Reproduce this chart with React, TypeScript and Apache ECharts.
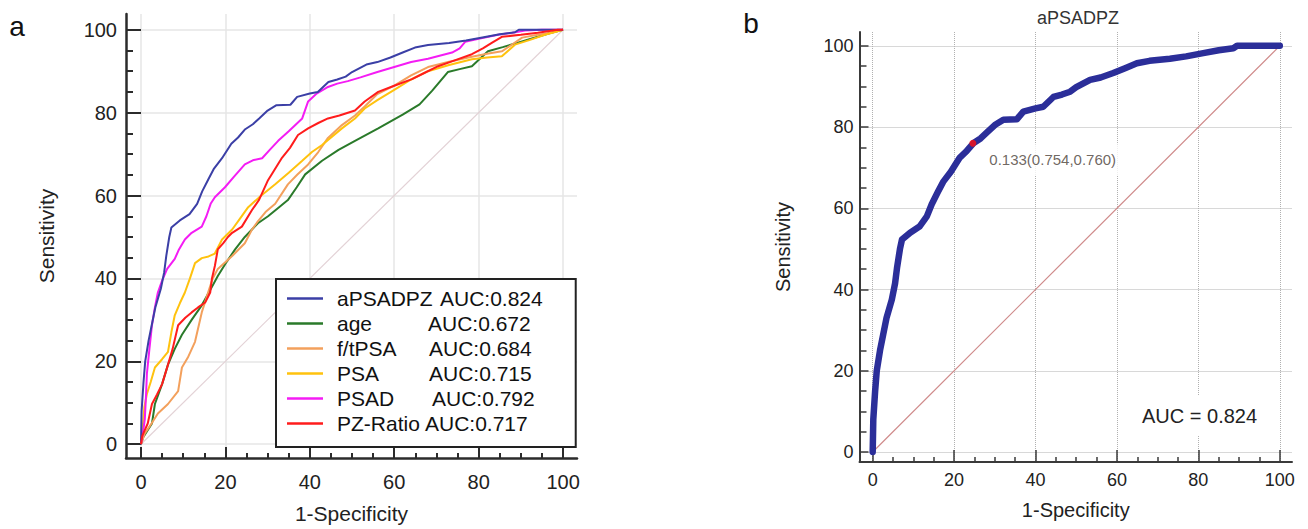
import React, { useEffect, useRef } from 'react';
import * as echarts from 'echarts';

type P = [number, number];

const MAJOR_TICKS = [0, 20, 40, 60, 80, 100];
const MINOR_TICKS = [5, 10, 15, 25, 30, 35, 45, 50, 55, 65, 70, 75, 85, 90, 95];

const NAMES = ['aPSADPZ', 'age', 'f/tPSA', 'PSA', 'PSAD', 'PZ-Ratio'];
const AUCS = ['0.824', '0.672', '0.684', '0.715', '0.792', '0.717'];

const APSADPZ: P[] = [
  [0, 0], [0.15, 8], [0.6, 15], [1, 20], [1.8, 25], [2.6, 29], [3.4, 33], [4.7, 37.5], [5.5, 41.5], [6, 45.5],
  [6.7, 50], [7.2, 52.3], [9.2, 54], [11.5, 55.5], [13.3, 58], [14.5, 61], [16, 64], [17.3, 66.5], [19.2, 69],
  [21.4, 72.5], [23, 74], [24.7, 76], [26.5, 77.2], [28, 78.6], [30, 80.5], [32.1, 81.8], [35.4, 81.9], [37, 83.8],
  [40, 84.6], [41.9, 85], [44.4, 87.4], [46.5, 88], [48.5, 88.7], [50, 89.8], [53.4, 91.6], [56, 92.2], [59.1, 93.3],
  [62, 94.5], [64.9, 95.7], [68, 96.3], [73, 96.8], [77, 97.4], [81.2, 98.2], [85, 98.9], [88.6, 99.4], [89.5, 100],
  [100, 100],
];

const AGE: P[] = [
  [0, 0], [0.5, 1.6], [2.6, 5], [3.3, 9.7], [5, 14.5], [6.4, 19.2], [8, 23], [9.7, 26.4], [12, 30], [14.4, 33.5],
  [16.3, 37], [18.2, 40.6], [20.3, 44], [22.3, 47], [24.6, 50], [27.7, 53.3], [30.1, 55], [32.5, 57], [34.8, 58.9],
  [36.9, 62], [38.9, 65.1], [42.9, 68.4], [46.8, 71], [50.7, 73.2], [56.2, 76.2], [62, 79.5], [66, 82], [69, 85.3],
  [70.8, 87.5], [72.7, 89.8], [75.5, 90.5], [78.4, 91.2], [80.3, 93], [82.2, 94.8], [85.7, 95.8], [89.3, 96.9],
  [94, 98.3], [97, 99.2], [100, 100],
];

const FTPSA: P[] = [
  [0, 0], [0.9, 2.6], [2.5, 5], [4, 7.4], [6.4, 9.7], [8.8, 12.8], [9.7, 18.5], [11.1, 20.9], [12.8, 24.7],
  [14.4, 31.8], [15.9, 36.6], [17, 40], [18.2, 42.3], [21.6, 45.4], [24.6, 48.5], [26.3, 51.8], [27.5, 53.5],
  [29.5, 56], [31.8, 58], [34.8, 62.7], [37, 65], [39.6, 67.5], [42, 70.5], [44.3, 73.9], [47.6, 77], [50.7, 79.3],
  [53, 81.5], [56, 84.5], [60, 86.5], [64, 89], [68, 91], [73, 92.3], [78.4, 93.5], [82, 94.2], [85.5, 94.8],
  [88, 96.5], [90.3, 98.1], [94, 98.8], [97.4, 99.3], [100, 100],
];

const PSA: P[] = [
  [0, 0], [0.5, 5], [0.8, 9], [1.4, 12.1], [2.3, 15], [3.3, 18.5], [5, 20.5], [6.4, 22.3], [7.2, 27], [8, 31.1],
  [9.2, 34], [10.4, 36.6], [11.6, 40], [12.8, 43.7], [14.4, 44.9], [16, 45.3], [17.5, 46], [19.2, 49.4],
  [21.6, 51.8], [23.5, 54.5], [25.4, 57.2], [28.5, 60], [31.8, 62.7], [35, 65.5], [38.2, 68.4], [40.5, 70.5],
  [42.9, 72.2], [47.6, 76.2], [50.7, 78.6], [53, 81], [56, 83], [60, 85.5], [64, 88], [68, 90], [73, 91.5],
  [78.4, 92.9], [82, 93.3], [85.5, 93.6], [88.6, 96.4], [92, 97.5], [95.7, 98.8], [100, 100],
];

const PSAD: P[] = [
  [0, 0], [0.5, 3], [0.9, 6], [1.2, 12], [1.4, 17], [2, 23], [2.6, 28.7], [3.3, 33], [4, 36.6], [5, 39.5],
  [6.2, 42.3], [8, 44.7], [9, 47], [10.4, 49.4], [12, 51], [14.4, 52.5], [15.5, 55], [16.5, 58], [17.5, 59.6],
  [19.9, 62], [22, 64.5], [24.6, 67.5], [26.5, 68.5], [28.7, 69], [30.5, 71], [32.5, 73.2], [35, 75.5],
  [38.2, 78.6], [39.6, 82.7], [41.5, 84.5], [44.3, 86.2], [46.5, 87], [49, 87.6], [52, 88.5], [56, 89.8],
  [60, 91], [64, 92.2], [68, 93], [73.7, 94.5], [75.5, 95.5], [76.8, 97.1], [80, 97.8], [84.6, 98.8],
  [88, 99.3], [91, 99.8], [95, 100], [100, 100],
];

const PZRATIO: P[] = [
  [0, 0], [0.3, 2], [1.6, 5], [2.6, 9.7], [3.8, 12], [5, 14.5], [6.4, 19.2], [7.5, 23], [8.8, 28.7], [10.5, 30.5],
  [12, 31.8], [13.5, 33], [15.2, 34.2], [16.4, 36.6], [16.8, 39.9], [17.5, 43], [18.2, 47], [19.5, 48.5],
  [20.6, 50], [21.6, 51], [23.9, 52.5], [26.3, 56.5], [28, 59], [30.1, 63.7], [31.5, 66], [33.4, 69.1],
  [35.3, 71.5], [37.2, 74.6], [39.6, 76.2], [42, 77.5], [44.3, 78.6], [47, 79.3], [50.7, 80.5], [53, 82.7],
  [56.2, 85], [60, 86.5], [64.2, 88.1], [67, 89.5], [70.4, 91.2], [74, 92.5], [78.4, 94.1], [81, 95.5],
  [83.2, 96.9], [85.5, 98.3], [90, 98.8], [94, 99.3], [98.8, 100], [100, 100],
];

const DIAGONAL: P[] = [[0, 0], [100, 100]];
const CUTOFF_POINT: P[] = [[24.6, 76.0]];
const CUTOFF_LABEL = '0.133(0.754,0.760)';
const PANEL_B_TITLE = 'aPSADPZ';
const PANEL_B_AUC = 'AUC = 0.824';
const X_NAME = '1-Specificity';
const Y_NAME = 'Sensitivity';

const FONT = '"Liberation Sans", Arial, sans-serif';
const COLORS = ['#3b3fa6', '#2a7a2a', '#f3a05c', '#ffc20e', '#f41cf4', '#ff1c1c'];
const NAME_W = [103, 91, 92, 92, 95, 88];

export default function App() {
  const ref = useRef<HTMLDivElement>(null);

  useEffect(() => {
    if (!ref.current) return;
    const chart = echarts.init(ref.current, null, { renderer: 'svg' });

    const axisA = '#2b2b2b';
    const axisB = '#3a3a3a';

    const makeX = (grid: number, min: number, max: number, major: boolean, b: boolean) => ({
      type: 'value',
      gridIndex: grid,
      min,
      max,
      position: 'bottom',
      axisLine: major
        ? { show: true, onZero: false, lineStyle: { color: b ? axisB : axisA, width: b ? 2 : 2.5 } }
        : { show: false, onZero: false },
      axisTick: {
        show: true,
        inside: true,
        length: major ? (b ? 12 : 11) : 5,
        customValues: major ? MAJOR_TICKS : MINOR_TICKS,
        lineStyle: { color: b ? axisB : axisA, width: b ? 1.5 : 2 },
      },
      axisLabel: major
        ? {
            show: true,
            customValues: MAJOR_TICKS,
            fontSize: b ? 18 : 20,
            color: '#222',
            fontFamily: FONT,
            margin: b ? 9 : 14,
          }
        : { show: false },
      splitLine: major
        ? {
            show: true,
            lineStyle: b
              ? { color: '#b0b0b0', width: 1, type: 'dotted' }
              : { color: '#e6e6e6', width: 1.5 },
          }
        : { show: false },
      name: major ? X_NAME : '',
      nameLocation: 'middle',
      nameGap: b ? 38 : 45,
      nameTextStyle: { fontSize: b ? 20 : 21, color: '#222', fontFamily: FONT },
    });

    const makeY = (grid: number, min: number, max: number, major: boolean, b: boolean) => ({
      type: 'value',
      gridIndex: grid,
      min,
      max,
      position: 'left',
      axisLine: major
        ? { show: true, onZero: false, lineStyle: { color: b ? axisB : axisA, width: b ? 2 : 2.5 } }
        : { show: false, onZero: false },
      axisTick: {
        show: true,
        inside: true,
        length: major ? (b ? 9 : 15) : 7,
        customValues: major ? MAJOR_TICKS : MINOR_TICKS,
        lineStyle: { color: b ? axisB : axisA, width: b ? 1.5 : 2 },
      },
      axisLabel: major
        ? {
            show: true,
            customValues: MAJOR_TICKS,
            fontSize: b ? 18 : 20,
            color: '#222',
            fontFamily: FONT,
            margin: b ? 6 : 9,
          }
        : { show: false },
      splitLine: major
        ? {
            show: true,
            lineStyle: b
              ? { color: '#b0b0b0', width: 1, type: 'dotted' }
              : { color: '#e6e6e6', width: 1.5 },
          }
        : { show: false },
      name: major ? Y_NAME : '',
      nameLocation: 'middle',
      nameGap: b ? 67 : 69,
      nameTextStyle: { fontSize: b ? 20 : 21, color: '#222', fontFamily: FONT },
    });

    const seriesA = [
      { data: AGE, idx: 1, z: 3 },
      { data: FTPSA, idx: 2, z: 4 },
      { data: PSA, idx: 3, z: 5 },
      { data: PSAD, idx: 4, z: 6 },
      { data: APSADPZ, idx: 0, z: 7 },
      { data: PZRATIO, idx: 5, z: 8 },
    ].map((s) => ({
      type: 'line',
      name: NAMES[s.idx],
      xAxisIndex: 0,
      yAxisIndex: 0,
      data: s.data,
      symbol: 'none',
      showSymbol: false,
      z: s.z,
      silent: true,
      lineStyle: { color: COLORS[s.idx], width: 2 },
      itemStyle: { color: COLORS[s.idx] },
    }));

    const rich: Record<string, any> = {
      v: { fontSize: 21, fontFamily: FONT, color: '#111', lineHeight: 21 },
    };
    NAMES.forEach((_, i) => {
      rich['n' + i] = {
        fontSize: 21,
        fontFamily: FONT,
        color: '#111',
        lineHeight: 21,
        width: NAME_W[i],
        padding: [0, 0, 0, 9],
      };
    });

    chart.setOption({
      animation: false,
      grid: [
        { left: 126, top: 14, width: 451, height: 451, containLabel: false },
        { left: 859.5, top: 32, width: 432.5, height: 430, containLabel: false },
      ],
      xAxis: [
        makeX(0, -3.55, 103.3, true, false),
        makeX(0, -3.55, 103.3, false, false),
        makeX(1, -3.24, 103.0, true, true),
        makeX(1, -3.24, 103.0, false, true),
      ],
      yAxis: [
        makeY(0, -3.33, 103.8, true, false),
        makeY(0, -3.33, 103.8, false, false),
        makeY(1, -2.46, 103.4, true, true),
        makeY(1, -2.46, 103.4, false, true),
      ],
      legend: {
        data: NAMES,
        orient: 'vertical',
        left: 276,
        top: 279,
        icon: 'rect',
        itemWidth: 36,
        itemHeight: 2.5,
        itemGap: 4,
        padding: [9, 33, 13, 11],
        backgroundColor: '#fff',
        borderColor: '#222',
        borderWidth: 2,
        borderRadius: 0,
        selectedMode: false,
        z: 20,
        textStyle: { fontSize: 21, fontFamily: FONT, color: '#111', lineHeight: 21, rich },
        formatter: (name: string) => {
          const i = NAMES.indexOf(name);
          return `{n${i}|${name}}{v|AUC:${AUCS[i]}}`;
        },
      },
      series: [
        {
          type: 'line',
          name: 'diag-a',
          xAxisIndex: 0,
          yAxisIndex: 0,
          data: DIAGONAL,
          symbol: 'none',
          silent: true,
          z: 2,
          lineStyle: { color: '#e3d2d6', width: 1.2 },
        },
        ...seriesA,
        {
          type: 'line',
          name: 'diag-b',
          xAxisIndex: 2,
          yAxisIndex: 2,
          data: DIAGONAL,
          symbol: 'none',
          silent: true,
          z: 2,
          lineStyle: { color: '#cf8a8a', width: 1.2 },
        },
        {
          type: 'line',
          name: 'aPSADPZ-b',
          xAxisIndex: 2,
          yAxisIndex: 2,
          data: APSADPZ,
          symbol: 'none',
          silent: true,
          z: 4,
          lineStyle: { color: '#2b2e99', width: 6.5, cap: 'round', join: 'round' },
        },
        {
          type: 'scatter',
          name: 'cutoff',
          xAxisIndex: 2,
          yAxisIndex: 2,
          data: CUTOFF_POINT,
          symbol: 'circle',
          symbolSize: 7,
          silent: true,
          z: 6,
          itemStyle: { color: '#ff1010' },
          label: {
            show: true,
            formatter: CUTOFF_LABEL,
            position: [16, 20],
            align: 'left',
            verticalAlign: 'middle',
            fontSize: 15,
            fontFamily: FONT,
            color: '#4a4038',
            backgroundColor: '#fff',
            padding: [8, 4],
          },
        },
      ],
      graphic: [
        {
          type: 'text',
          x: 17,
          y: 26,
          z: 100,
          style: { text: 'a', fontSize: 28, fontFamily: FONT, fill: '#111', align: 'center', verticalAlign: 'middle' },
        },
        {
          type: 'text',
          x: 751,
          y: 23,
          z: 100,
          style: { text: 'b', fontSize: 28, fontFamily: FONT, fill: '#111', align: 'center', verticalAlign: 'middle' },
        },
        {
          type: 'text',
          x: 1078,
          y: 17.5,
          z: 100,
          style: { text: PANEL_B_TITLE, fontSize: 18, fontFamily: FONT, fill: '#333', align: 'center', verticalAlign: 'middle' },
        },
        {
          type: 'text',
          x: 1136,
          y: 416,
          z: 100,
          style: {
            text: PANEL_B_AUC,
            fontSize: 20,
            fontFamily: FONT,
            fill: '#222',
            align: 'left',
            verticalAlign: 'middle',
            backgroundColor: '#fff',
            padding: [10, 6],
          },
        },
      ],
    });

    return () => chart.dispose();
  }, []);

  return (
    <div
      ref={ref}
      style={{ position: 'absolute', left: 0, top: 0, width: 1308, height: 529, background: '#fff' }}
    />
  );
}
